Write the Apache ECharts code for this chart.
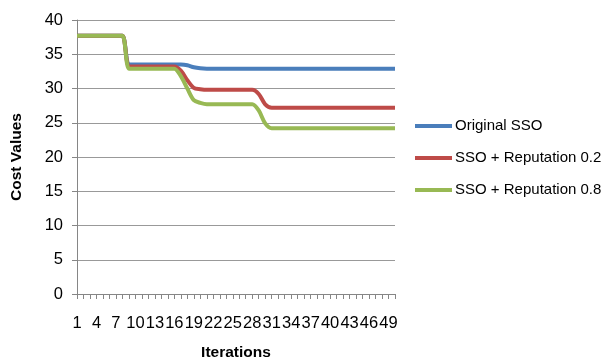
<!DOCTYPE html>
<html>
<head>
<meta charset="utf-8">
<script src="https://cdn.jsdelivr.net/npm/echarts@6/dist/echarts.min.js"></script>
<style>html,body{margin:0;padding:0;background:#fff;}#c{width:610px;height:361px;}</style>
</head>
<body>
<div id="c"></div>
<script>
var iterations = ['1','2','3','4','5','6','7','8','9','10','11','12','13','14','15','16','17','18','19','20','21','22','23','24','25','26','27','28','29','30','31','32','33','34','35','36','37','38','39','40','41','42','43','44','45','46','47','48','49','50'];
var originalSSO = [37.7,37.7,37.7,37.7,37.7,37.7,37.7,37.7,33.5,33.5,33.5,33.5,33.5,33.5,33.5,33.5,33.5,33.4,33.1,32.95,32.9,32.9,32.9,32.9,32.9,32.9,32.9,32.9,32.9,32.9,32.9,32.9,32.9,32.9,32.9,32.9,32.9,32.9,32.9,32.9,32.9,32.9,32.9,32.9,32.9,32.9,32.9,32.9,32.9,32.9];
var reputation02 = [37.7,37.7,37.7,37.7,37.7,37.7,37.7,37.7,33.2,33.2,33.2,33.2,33.2,33.2,33.2,33.2,32.6,31.2,30.1,29.9,29.8,29.8,29.8,29.8,29.8,29.8,29.8,29.8,29.2,27.7,27.2,27.2,27.2,27.2,27.2,27.2,27.2,27.2,27.2,27.2,27.2,27.2,27.2,27.2,27.2,27.2,27.2,27.2,27.2,27.2];
var reputation08 = [37.7,37.7,37.7,37.7,37.7,37.7,37.7,37.7,32.9,32.9,32.9,32.9,32.9,32.9,32.9,32.9,31.8,30.0,28.3,27.9,27.7,27.7,27.7,27.7,27.7,27.7,27.7,27.7,26.8,24.9,24.2,24.2,24.2,24.2,24.2,24.2,24.2,24.2,24.2,24.2,24.2,24.2,24.2,24.2,24.2,24.2,24.2,24.2,24.2,24.2];
var seriesNames = ['Original SSO','SSO + Reputation 0.2','SSO + Reputation 0.8'];
var colors = ['#4A7EBB','#BE4B48','#98B954'];
var FONT = 'Liberation Sans';
var chart = echarts.init(document.getElementById('c'), null, {renderer:'canvas'});
function mk(name, data, color){
  return {name:name, type:'line', data:data, smooth:0.3, showSymbol:false, symbol:'none',
    lineStyle:{color:color, width:4}, itemStyle:{color:color}, animation:false};
}
chart.setOption({
  animation:false,
  textStyle:{fontFamily:FONT},
  grid:{left:77, right:215, top:20, bottom:67, containLabel:false, outerBoundsMode:'none'},
  legend:{
    orient:'vertical', left:415, top:117, padding:0, itemWidth:37, itemHeight:4, itemGap:14,
    icon:'rect', data:seriesNames,
    textStyle:{fontFamily:FONT, fontSize:15, color:'#000', lineHeight:18, padding:[0,0,0,-2]}
  },
  xAxis:{
    type:'category', data:iterations, boundaryGap:false,
    name:'Iterations', nameLocation:'middle', nameGap:51,
    nameTextStyle:{fontFamily:FONT, fontSize:15.5, fontWeight:'bold', color:'#000'},
    axisLine:{lineStyle:{color:'#868686', width:1}},
    axisTick:{show:true, interval:0, length:5, inside:false, lineStyle:{color:'#868686'}},
    axisLabel:{interval:2, margin:21, fontSize:16.5, color:'#000', fontFamily:FONT},
    splitLine:{show:false}
  },
  yAxis:{
    type:'value', min:0, max:40, interval:5,
    name:'Cost Values', nameLocation:'middle', nameGap:52, nameRotate:90,
    nameTextStyle:{fontFamily:FONT, fontSize:15.5, fontWeight:'bold', color:'#000'},
    axisLine:{show:true, lineStyle:{color:'#868686', width:1}},
    axisTick:{show:true, length:5, lineStyle:{color:'#868686'}},
    axisLabel:{margin:14, fontSize:16.5, color:'#000', fontFamily:FONT},
    splitLine:{show:true, lineStyle:{color:'#999999', width:1}}
  },
  series:[
    mk(seriesNames[0], originalSSO, colors[0]),
    mk(seriesNames[1], reputation02, colors[1]),
    mk(seriesNames[2], reputation08, colors[2])
  ]
});
</script>
</body>
</html>
